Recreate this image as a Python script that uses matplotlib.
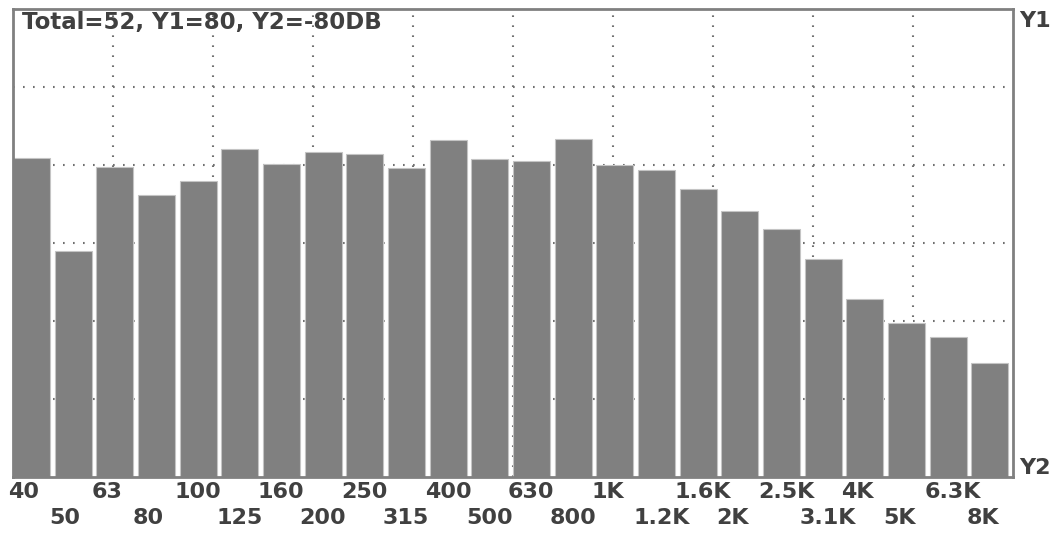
import matplotlib
matplotlib.use("Agg")
import matplotlib.pyplot as plt

# Data
bands = ["40", "50", "63", "80", "100", "125", "160", "200", "250", "315", "400", "500",
         "630", "800", "1K", "1.2K", "1.6K", "2K", "2.5K", "3.1K", "4K", "5K", "6.3K", "8K"]
levels = [29.0, -2.6, 26.1, 16.5, 21.3, 32.2, 26.9, 31.0, 30.3, 25.5, 35.1, 28.8,
          28.1, 35.7, 26.8, 24.8, 18.6, 11.0, 4.9, -5.4, -19.0, -27.2, -32.1, -40.9]
y1 = 80
y2 = -80
title = "Total=52, Y1=80, Y2=-80DB"

W, H = 1060, 537
fig = plt.figure(figsize=(W / 100, H / 100), dpi=100)
fig.patch.set_facecolor("white")

left, right, top, bottom = 13, 1013, 9, 477
ax = fig.add_axes([left / W, (H - bottom) / H, (right - left) / W, (bottom - top) / H])

n = len(bands)
ax.set_xlim(0, n)
ax.set_ylim(y2, y1)

GRID = "#707070"
DOT = (0, (0.8, 4.0))
for k in range(1, 10):
    ax.axvline(n * k / 10, color=GRID, lw=1.5, linestyle=DOT, zorder=1)
for k in range(1, 6):
    ax.axhline(y2 + (y1 - y2) * k / 6, color=GRID, lw=1.5, linestyle=DOT, zorder=1)

ax.bar(range(n), [v - y2 for v in levels], bottom=y2, width=0.89, align="edge",
       color="#808080", edgecolor="#c4c4c4", linewidth=0.8, zorder=2)

for s in ax.spines.values():
    s.set_color("#808080")
    s.set_linewidth(2.0)
ax.set_xticks([])
ax.set_yticks([])

TXT = "#404040"
FONT = dict(family="DejaVu Sans", weight="bold", color=TXT)

ax.annotate(title, xy=(0, 1), xycoords="axes fraction", xytext=(9, -2),
            textcoords="offset pixels", ha="left", va="top", fontsize=16.5, **FONT)

for i, lab in enumerate(bands):
    dy = -5 if i % 2 == 0 else -31
    ax.annotate(lab, xy=(i, 0), xycoords=("data", "axes fraction"), xytext=(-5, dy),
                textcoords="offset pixels", ha="left", va="top", fontsize=16, **FONT)

ax.annotate("Y1", xy=(1, 1), xycoords="axes fraction", xytext=(6, -2),
            textcoords="offset pixels", ha="left", va="top", fontsize=16, **FONT)
ax.annotate("Y2", xy=(1, 0), xycoords="axes fraction", xytext=(6, -1),
            textcoords="offset pixels", ha="left", va="bottom", fontsize=16, **FONT)

fig.savefig("out.png", dpi=100, facecolor="white")
